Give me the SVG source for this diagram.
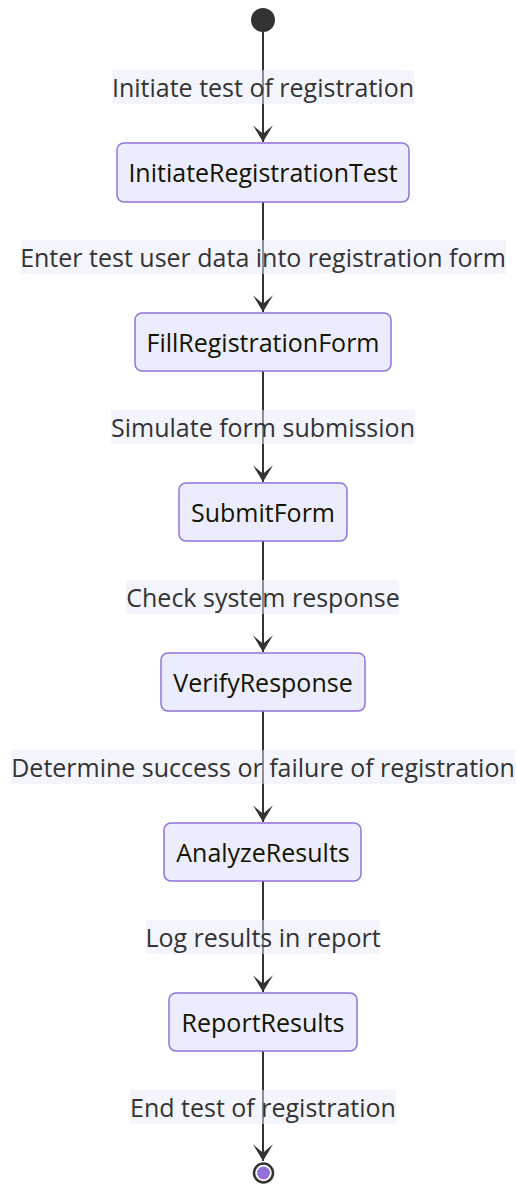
<svg xmlns="http://www.w3.org/2000/svg" width="517" height="1184" viewBox="0 0 517 1184">
  <style>
    .edge { stroke: #333333; stroke-width: 2; fill: none; }
    .lbl-bg { fill: #EAEAF9; fill-opacity: 0.5; }
    .lbl { font-family: "Open Sans", "Liberation Sans", sans-serif; font-size: 25px; fill: #333333; text-anchor: middle; }
    .state rect { fill: #ECECFF; stroke: #9370DB; stroke-width: 1.5; }
    .state text { font-family: "Open Sans", "Liberation Sans", sans-serif; font-size: 25px; fill: #131300; text-anchor: middle; }
  </style>
  <defs>
    <marker id="barb" markerUnits="userSpaceOnUse" markerWidth="20" markerHeight="20" viewBox="0 0 14.2 17" refX="14.2" refY="8.5" orient="auto">
      <path d="M14.2,8.5 L0,17 L7.1,8.5 L0,0 Z" fill="#333333"/>
    </marker>
  </defs>

  <!-- transitions -->
  <g id="edges">
    <path class="edge" d="M263,32 L263,142" marker-end="url(#barb)"/>
    <path class="edge" d="M263,202 L263,312" marker-end="url(#barb)"/>
    <path class="edge" d="M263,371 L263,482" marker-end="url(#barb)"/>
    <path class="edge" d="M263,541 L263,652" marker-end="url(#barb)"/>
    <path class="edge" d="M263,711 L263,822" marker-end="url(#barb)"/>
    <path class="edge" d="M263,881 L263,992" marker-end="url(#barb)"/>
    <path class="edge" d="M263,1051 L263,1161" marker-end="url(#barb)"/>

    <rect class="lbl-bg" x="112" y="70" width="302" height="34"/>
    <text class="lbl" x="263" y="97">Initiate test of registration</text>
    <rect class="lbl-bg" x="21" y="240" width="485" height="34"/>
    <text class="lbl" x="263" y="267">Enter test user data into registration form</text>
    <rect class="lbl-bg" x="111" y="410" width="304" height="34"/>
    <text class="lbl" x="263" y="437">Simulate form submission</text>
    <rect class="lbl-bg" x="126" y="580" width="273" height="34"/>
    <text class="lbl" x="263" y="607">Check system response</text>
    <rect class="lbl-bg" x="11" y="750" width="504" height="34"/>
    <text class="lbl" x="263" y="777">Determine success or failure of registration</text>
    <rect class="lbl-bg" x="146" y="920" width="234" height="34"/>
    <text class="lbl" x="263" y="947">Log results in report</text>
    <rect class="lbl-bg" x="130" y="1090" width="266" height="34"/>
    <text class="lbl" x="263" y="1117">End test of registration</text>
  </g>

  <!-- start state -->
  <g id="start">
    <circle cx="263" cy="20" r="12" fill="#333333"/>
  </g>

  <g id="InitiateRegistrationTest" class="state">
    <rect x="117" y="143" width="292" height="59" rx="7" ry="7"/>
    <text x="263" y="182">InitiateRegistrationTest</text>
  </g>
  <g id="FillRegistrationForm" class="state">
    <rect x="135" y="313" width="256" height="58" rx="7" ry="7"/>
    <text x="263" y="352">FillRegistrationForm</text>
  </g>
  <g id="SubmitForm" class="state">
    <rect x="179" y="483" width="168" height="58" rx="7" ry="7"/>
    <text x="263" y="522">SubmitForm</text>
  </g>
  <g id="VerifyResponse" class="state">
    <rect x="161" y="653" width="204" height="58" rx="7" ry="7"/>
    <text x="263" y="692">VerifyResponse</text>
  </g>
  <g id="AnalyzeResults" class="state">
    <rect x="164" y="823" width="197" height="58" rx="7" ry="7"/>
    <text x="263" y="862">AnalyzeResults</text>
  </g>
  <g id="ReportResults" class="state">
    <rect x="169" y="993" width="188" height="58" rx="7" ry="7"/>
    <text x="263" y="1032">ReportResults</text>
  </g>

  <!-- end state -->
  <g id="end">
    <circle cx="263.5" cy="1173" r="9.5" fill="#FFFFFF" stroke="#333333" stroke-width="2.5"/>
    <circle cx="263.5" cy="1173" r="6.5" fill="#9370DB"/>
  </g>
</svg>
